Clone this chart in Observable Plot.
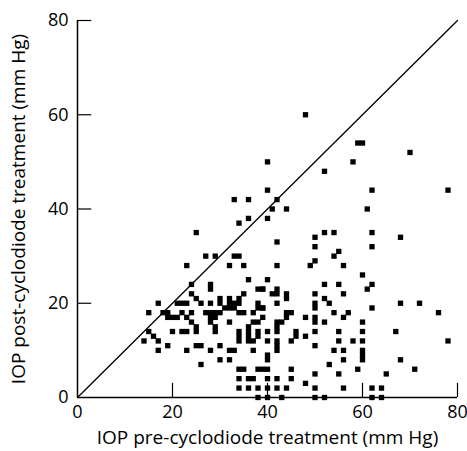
<!DOCTYPE html>
<html>
<head>
<meta charset="utf-8">
<script src="https://cdn.jsdelivr.net/npm/d3@7"></script>
<script src="https://cdn.jsdelivr.net/npm/@observablehq/plot@0.6"></script>
<style>
  body { margin: 0; background: #fff; }
  #chart svg { display: block; }
</style>
</head>
<body>
<div id="chart"></div>
<script>
// Pre-cyclodiode IOP (x) and post-cyclodiode IOP (y), mm Hg
const preIOP = [
  48, 59, 60, 70, 40, 58, 52, 40, 62, 78, 42, 41, 44, 61, 40, 52, 54, 62, 42, 50, 68, 50, 62, 55, 54, 50, 42, 49, 56,
  33, 36, 34, 36, 25, 27, 29, 33, 34, 23, 32, 35,
  40, 60, 52, 55, 62, 61, 39, 41, 42, 42, 44, 44, 50, 56, 52, 53, 42, 50, 50, 39, 62, 68, 72, 76,
  44, 45, 44, 48, 50, 50, 54, 56, 57, 52, 60, 42, 43, 42, 42, 40, 46, 46, 48, 45, 50, 55, 60, 67,
  40, 42, 42, 42, 50, 55, 58, 60, 78, 54, 56, 60, 60, 60, 40, 40, 56, 68, 53, 39, 40, 45, 59, 71,
  50, 55, 65, 40, 42, 45, 48, 40, 42, 50, 56, 62, 64, 40, 43, 50, 52, 62, 64,
  36, 38, 39, 24, 28, 28, 24, 25, 26, 28, 30, 30, 32, 32, 33, 35, 34, 34, 38, 39, 17, 21, 22, 23,
  15, 18, 19, 19, 20, 21, 22, 23, 24, 24, 25, 25, 27, 28, 29, 30, 28, 29, 28, 29, 29,
  31, 32, 33, 34, 35, 32, 37, 38, 37, 38, 39, 15, 16, 17, 14, 20, 22, 23, 19, 17, 23, 25, 26, 28, 30,
  32, 33, 34, 34, 34, 36, 36, 36, 36, 37, 37, 38, 38, 30, 32, 26, 34, 35, 38, 34, 37,
  34, 36, 38, 36, 44, 38
];
const postIOP = [
  60, 54, 54, 52, 50, 50, 48, 44, 44, 44, 42, 40, 40, 40, 38, 35, 35, 35, 33, 34, 34, 32, 32, 31, 30, 29, 28, 28, 28,
  42, 42, 37, 38, 35, 30, 30, 30, 30, 28, 28, 28,
  25, 26, 24, 24, 24, 23, 23, 22, 23, 22, 22, 21, 22, 22, 21, 20, 20, 20, 19, 19, 19, 20, 20, 18,
  18, 18, 17, 17, 17, 16, 18, 17, 18, 16, 16, 16, 16, 15, 14, 14, 14, 13, 13, 12, 14, 14, 14, 14,
  12, 12, 11, 10, 11, 12, 12, 12, 12, 10, 10, 10, 9, 8, 9, 8, 8, 8, 7, 6, 6, 6, 6, 6,
  5, 5, 5, 4, 4, 4, 3, 2, 2, 2, 2, 2, 2, 0, 0, 0, 0, 0, 0,
  25, 23, 23, 24, 24, 23, 22, 21, 20, 20, 21, 20, 21, 20, 20, 22, 21, 20, 20, 19, 20, 20, 20, 20,
  18, 18, 18, 17, 17, 17, 18, 17, 18, 16, 15, 14, 18, 18, 18, 18, 17, 17, 16, 15, 14,
  19, 19, 19, 18, 18, 16, 18, 19, 16, 16, 17, 14, 13, 12, 12, 14, 14, 14, 11, 10, 10, 11, 11, 10, 11,
  10, 10, 14, 13, 12, 15, 14, 13, 12, 12, 10, 14, 13, 8, 8, 7, 6, 6, 6, 4, 4,
  2, 2, 2, 4, 2, 0
];
const identityLine = [0, 80];
const axisTicks = [0, 20, 40, 60, 80];
const innerTicks = [20, 40, 60, 80];

const points = preIOP.map((x, i) => ({x, y: postIOP[i]}));

const font = "'Open Sans', 'DejaVu Sans', sans-serif";

const chart = Plot.plot({
  width: 467,
  height: 451,
  marginLeft: 77,
  marginRight: 10,
  marginTop: 20,
  marginBottom: 54,
  style: {fontFamily: font, fontSize: "16px", color: "#000", background: "#fff"},
  x: {type: "linear", domain: [0, 80]},
  y: {type: "linear", domain: [0, 80]},
  marks: [
    Plot.line(identityLine.map(v => [v, v]), {stroke: "#000", strokeWidth: 1.3}),
    Plot.dot(points, {x: "x", y: "y", symbol: "square", r: 3.0, fill: "#000", stroke: "none"}),
    Plot.axisX({ticks: axisTicks, tickSize: 0, tickPadding: 8, fontSize: 18, label: null}),
    Plot.axisY({ticks: axisTicks, tickSize: 0, tickPadding: 9, fontSize: 18, label: null}),
    Plot.ruleX(innerTicks, {x: d => d, y1: 0, y2: 3, stroke: "#000", strokeWidth: 1.2}),
    Plot.ruleY(innerTicks, {y: d => d, x1: 0, x2: 3, stroke: "#000", strokeWidth: 1.2}),
    Plot.ruleX([0], {stroke: "#000", strokeWidth: 1.5}),
    Plot.ruleY([0], {stroke: "#000", strokeWidth: 1.5}),
    Plot.text(["IOP pre-cyclodiode treatment (mm Hg)"], {frameAnchor: "bottom", dy: 46, fontSize: 19, fill: "#000"}),
    Plot.text(["IOP post-cyclodiode treatment (mm Hg)"], {frameAnchor: "left", dx: -59, rotate: -90, textAnchor: "middle", fontSize: 19, fill: "#000"})
  ]
});

document.getElementById("chart").appendChild(chart);
</script>
</body>
</html>
